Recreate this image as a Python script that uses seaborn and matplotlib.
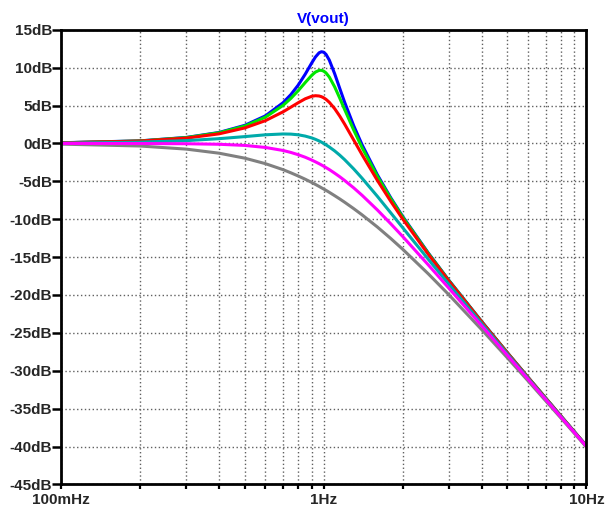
import pandas as pd
import matplotlib.pyplot as plt
import matplotlib.ticker as mticker
import seaborn as sns

# =============================
# Data
# =============================
freq = [0.1, 0.2, 0.3, 0.4, 0.5, 0.6, 0.7, 0.75, 0.8, 0.85, 0.9, 0.93, 0.96, 0.98,
        1.0, 1.02, 1.05, 1.1, 1.15, 1.2, 1.3, 1.4, 1.6, 1.8, 2.0, 2.5, 3.0, 4.0,
        5.0, 6.0, 8.0, 10.0]

blue = [0.09, 0.34, 0.79, 1.45, 2.38, 3.64, 5.37, 6.45, 7.71, 9.13, 10.62, 11.41, 11.96, 12.10,
        12.04, 11.76, 11.00, 9.22, 7.29, 5.47, 2.35, -0.19, -4.14, -7.18, -9.66, -14.46, -18.10, -23.54,
        -27.62, -30.89, -35.99, -39.92]
green = [0.08, 0.33, 0.77, 1.41, 2.29, 3.47, 5.02, 5.95, 6.97, 8.03, 8.99, 9.42, 9.64, 9.65,
         9.54, 9.31, 8.76, 7.48, 6.00, 4.51, 1.78, -0.57, -4.34, -7.31, -9.75, -14.51, -18.13, -23.56,
         -27.63, -30.90, -35.99, -39.92]
red = [0.08, 0.31, 0.70, 1.27, 2.04, 3.01, 4.17, 4.79, 5.38, 5.89, 6.22, 6.30, 6.26, 6.17,
       6.02, 5.82, 5.43, 4.60, 3.62, 2.57, 0.46, -1.50, -4.88, -7.65, -10.00, -14.64, -18.21, -23.60,
       -27.65, -30.91, -36.00, -39.92]
cyan = [0.04, 0.17, 0.37, 0.63, 0.90, 1.14, 1.25, 1.23, 1.14, 0.97, 0.73, 0.54, 0.33, 0.17,
        0.00, -0.18, -0.47, -0.98, -1.54, -2.13, -3.36, -4.60, -6.98, -9.17, -11.14, -15.29, -18.63, -23.82,
        -27.79, -31.01, -36.06, -39.96]
magenta = [0.00, -0.01, -0.04, -0.11, -0.26, -0.53, -0.93, -1.19, -1.49, -1.82, -2.19, -2.43, -2.67, -2.84,
           -3.01, -3.19, -3.45, -3.92, -4.39, -4.88, -5.86, -6.85, -8.78, -10.61, -12.30, -16.03, -19.14, -24.10,
           -27.97, -31.13, -36.12, -40.00]
gray = [-0.09, -0.34, -0.75, -1.29, -1.94, -2.67, -3.46, -3.88, -4.30, -4.72, -5.15, -5.41, -5.67, -5.85,
        -6.02, -6.19, -6.45, -6.89, -7.32, -7.75, -8.60, -9.43, -11.03, -12.55, -13.98, -17.21, -20.00, -24.61,
        -28.30, -31.36, -36.26, -40.09]

traces = {"blue": blue, "green": green, "red": red, "cyan": cyan, "gray": gray, "magenta": magenta}
colors = {"blue": "#0000FF", "green": "#00E600", "red": "#FF0000",
          "cyan": "#00AAAA", "gray": "#808080", "magenta": "#FF00FF"}

y_ticks = list(range(-45, 16, 5))
x_ticks = [0.1, 1, 10]
x_labels = ["100mHz", "1Hz", "10Hz"]

# =============================
# Long table for seaborn
# =============================
df = pd.concat(
    [pd.DataFrame({"freq": freq, "dB": vals, "trace": name}) for name, vals in traces.items()],
    ignore_index=True,
)

# =============================
# Plot
# =============================
sns.set_style("white")
plt.rcParams["font.family"] = ["Liberation Sans", "DejaVu Sans"]

fig = plt.figure(figsize=(6.14, 5.09), dpi=100)
ax = fig.add_axes([0.0993, 0.0483, 0.8559, 0.8932])

sns.lineplot(data=df, x="freq", y="dB", hue="trace", hue_order=list(traces.keys()),
             palette=colors, linewidth=2.2, estimator=None, sort=False, legend=False, ax=ax)

ax.set_xscale("log")
ax.set_xlim(0.1, 10)
ax.set_ylim(-45, 15)

ax.xaxis.set_major_locator(mticker.FixedLocator(x_ticks))
ax.xaxis.set_major_formatter(mticker.FixedFormatter(x_labels))
ax.xaxis.set_minor_locator(mticker.LogLocator(base=10, subs=range(2, 10)))
ax.xaxis.set_minor_formatter(mticker.NullFormatter())
ax.set_yticks(y_ticks)
ax.set_yticklabels([f"{v}dB" for v in y_ticks])

# dotted LTspice-style grid, minor decades included
grid_kw = dict(color="#606060", linestyle=(0, (1, 1.8)), linewidth=1.0)
ax.grid(True, which="both", axis="x", **grid_kw)
ax.grid(True, which="major", axis="y", **grid_kw)

for s in ax.spines.values():
    s.set_color("black")
    s.set_linewidth(2)

ax.tick_params(axis="y", which="major", direction="out", length=6.5, width=1.8,
               color="black", pad=0, labelsize=11, left=True)
ax.tick_params(axis="x", which="major", direction="out", length=3.5, width=1.6,
               color="black", pad=3, labelsize=11, bottom=True)
ax.tick_params(axis="x", which="minor", direction="out", length=3.5, width=1.6,
               color="black", bottom=True)
for lab in ax.get_xticklabels() + ax.get_yticklabels():
    lab.set_fontweight("bold")

ax.set_xlabel("")
ax.set_ylabel("")
ax.set_title("V(vout)", color="#0000FF", fontsize=11, fontweight="bold", pad=5)

plt.savefig("out.png", dpi=100)
